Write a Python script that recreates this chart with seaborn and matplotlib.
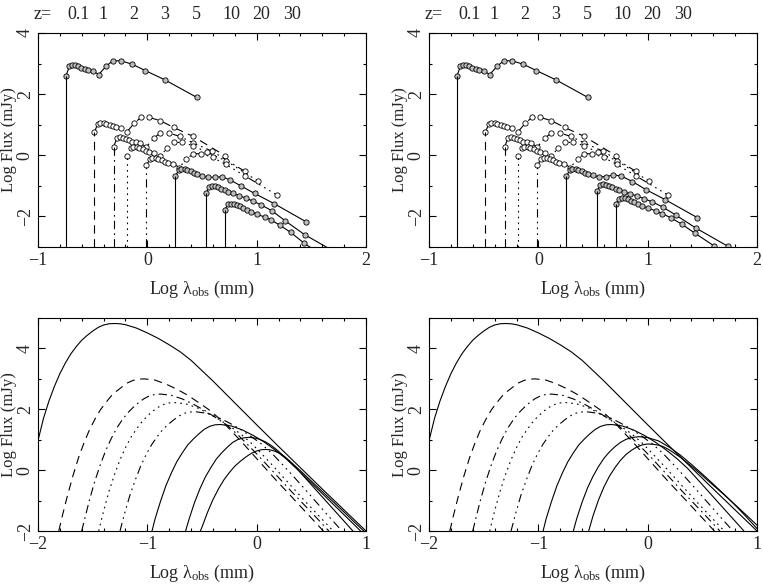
import matplotlib
matplotlib.use("Agg")

import matplotlib.pyplot as plt
import matplotlib.transforms as mtransforms
from matplotlib.ticker import MultipleLocator
import seaborn as sns

# =========================================================
# DATA : observed SEDs (top) and model curves (bottom)
# =========================================================

redshift_labels = ["z=", "0.1", "1", "2", "3", "5", "10", "20", "30"]

# top panels: points, one list per redshift
sed_x_z01 = [-0.744, -0.713, -0.689, -0.659, -0.634, -0.604, -0.573, -0.543, -0.500, -0.445, -0.378, -0.317, -0.241, -0.140, -0.018, 0.159, 0.454]
sed_y_z01 = [2.60, 2.91, 2.94, 2.94, 2.91, 2.87, 2.83, 2.80, 2.77, 2.64, 2.91, 3.09, 3.09, 2.98, 2.77, 2.47, 1.89]

sed_x_z1 = [-0.485, -0.454, -0.430, -0.400, -0.375, -0.345, -0.314, -0.284, -0.241, -0.186, -0.119, -0.058, 0.018, 0.119, 0.241, 0.418, 0.713]
sed_y_z1 = [0.75, 1.02, 1.07, 1.07, 1.03, 0.99, 0.95, 0.92, 0.89, 0.77, 1.05, 1.24, 1.24, 1.13, 0.91, 0.62, -0.02]

sed_x_z2 = [-0.309, -0.278, -0.254, -0.224, -0.199, -0.169, -0.138, -0.108, -0.065, -0.010, 0.057, 0.118, 0.194, 0.295, 0.417, 0.594, 0.889]
sed_y_z2 = [0.28, 0.55, 0.59, 0.58, 0.54, 0.50, 0.45, 0.42, 0.40, 0.27, 0.55, 0.73, 0.73, 0.62, 0.41, 0.13, -0.52]

sed_x_z3 = [-0.184, -0.153, -0.129, -0.099, -0.074, -0.044, -0.013, 0.017, 0.060, 0.115, 0.182, 0.243, 0.319, 0.420, 0.542, 0.719, 1.014]
sed_y_z3 = [-0.03, 0.24, 0.28, 0.27, 0.23, 0.19, 0.14, 0.11, 0.09, -0.04, 0.24, 0.42, 0.42, 0.31, 0.10, -0.18, -0.85]

sed_x_z5 = [-0.008, 0.023, 0.047, 0.077, 0.102, 0.132, 0.163, 0.193, 0.236, 0.291, 0.358, 0.419, 0.495, 0.596, 0.718, 0.895, 1.190]
sed_y_z5 = [-0.33, -0.12, -0.08, -0.09, -0.13, -0.17, -0.22, -0.25, -0.27, -0.40, -0.13, 0.05, 0.05, -0.07, -0.30, -0.68, -1.31]

sed_x_z10 = [0.256, 0.287, 0.311, 0.341, 0.366, 0.396, 0.427, 0.457, 0.500, 0.555, 0.622, 0.683, 0.759, 0.860, 0.982, 1.159, 1.454]
sed_y_z10_left = [-0.68, -0.49, -0.46, -0.46, -0.49, -0.53, -0.57, -0.62, -0.68, -0.72, -0.72, -0.70, -0.81, -1.01, -1.25, -1.58, -2.18]
sed_y_z10_right = [-0.68, -0.49, -0.46, -0.46, -0.49, -0.53, -0.57, -0.62, -0.66, -0.70, -0.70, -0.64, -0.68, -0.86, -1.12, -1.45, -2.04]

sed_x_z20 = [0.537, 0.568, 0.592, 0.622, 0.647, 0.677, 0.708, 0.738, 0.781, 0.836, 0.903, 0.964, 1.040, 1.141, 1.263, 1.440, 1.735]
sed_y_z20_left = [-1.23, -1.03, -1.00, -1.01, -1.05, -1.10, -1.14, -1.20, -1.25, -1.32, -1.40, -1.50, -1.62, -1.82, -2.15, -2.60, -3.20]
sed_y_z20_right = [-1.16, -0.98, -0.95, -0.96, -1.00, -1.05, -1.09, -1.14, -1.19, -1.26, -1.33, -1.42, -1.52, -1.70, -1.97, -2.38, -2.98]

sed_x_z30 = [0.706, 0.737, 0.761, 0.791, 0.816, 0.846, 0.877, 0.907, 0.950, 1.005, 1.072, 1.133, 1.209, 1.310, 1.432, 1.609, 1.904]
sed_y_z30_left = [-1.80, -1.61, -1.58, -1.59, -1.62, -1.67, -1.72, -1.78, -1.84, -1.93, -2.02, -2.12, -2.28, -2.52, -2.87, -3.30, -4.00]
sed_y_z30_right = [-1.60, -1.43, -1.40, -1.41, -1.44, -1.49, -1.54, -1.59, -1.65, -1.73, -1.82, -1.91, -2.04, -2.25, -2.55, -2.97, -3.60]

# bottom panels: model curves
mod_x_z01 = [-2.0, -1.95, -1.9, -1.85, -1.8, -1.75, -1.7, -1.65, -1.6, -1.55, -1.5, -1.45, -1.4, -1.35, -1.3, -1.25, -1.2, -1.1, -1.0, -0.9, -0.8, -0.7, -0.6, -0.5, -0.4, -0.3, -0.2, -0.1, 0.0, 0.2, 0.4, 0.6, 0.8, 1.0]
mod_y_z01 = [0.97, 1.70, 2.27, 2.75, 3.17, 3.52, 3.82, 4.06, 4.27, 4.43, 4.57, 4.69, 4.77, 4.81, 4.82, 4.81, 4.78, 4.67, 4.51, 4.33, 4.12, 3.89, 3.61, 3.27, 2.93, 2.57, 2.21, 1.85, 1.49, 0.78, 0.08, -0.62, -1.31, -2.0]

mod_x_z1 = [-1.81, -1.78, -1.73, -1.68, -1.63, -1.58, -1.53, -1.48, -1.43, -1.38, -1.33, -1.28, -1.23, -1.18, -1.13, -1.08, -1.03, -0.93, -0.83, -0.73, -0.63, -0.53, -0.43, -0.33, -0.23, -0.13, -0.03, 0.17, 0.37, 0.61]
mod_y_z1 = [-2.0, -1.54, -0.83, -0.18, 0.40, 0.89, 1.32, 1.67, 1.98, 2.22, 2.44, 2.60, 2.74, 2.87, 2.95, 2.99, 3.0, 2.96, 2.83, 2.66, 2.46, 2.22, 1.97, 1.66, 1.28, 0.90, 0.50, -0.30, -1.07, -2.0]

mod_x_z2 = [-1.60, -1.58, -1.53, -1.48, -1.43, -1.38, -1.33, -1.28, -1.23, -1.18, -1.13, -1.08, -1.03, -0.98, -0.93, -0.88, -0.78, -0.68, -0.58, -0.48, -0.38, -0.28, -0.18, -0.08, 0.02, 0.12, 0.32, 0.52, 0.66]
mod_y_z2 = [-2.0, -1.70, -0.99, -0.36, 0.18, 0.65, 1.04, 1.38, 1.65, 1.88, 2.06, 2.22, 2.35, 2.44, 2.49, 2.5, 2.46, 2.34, 2.17, 1.97, 1.74, 1.50, 1.19, 0.83, 0.46, 0.07, -0.71, -1.46, -2.0]

mod_x_z3 = [-1.445, -1.40, -1.35, -1.30, -1.25, -1.20, -1.15, -1.10, -1.05, -1.00, -0.95, -0.90, -0.85, -0.80, -0.75, -0.65, -0.55, -0.45, -0.35, -0.25, -0.15, -0.05, 0.05, 0.15, 0.25, 0.45, 0.70]
mod_y_z3 = [-2.0, -1.34, -0.69, -0.14, 0.34, 0.74, 1.08, 1.35, 1.59, 1.78, 1.94, 2.07, 2.16, 2.21, 2.22, 2.18, 2.06, 1.88, 1.68, 1.45, 1.20, 0.89, 0.52, 0.14, -0.26, -1.05, -2.0]

mod_x_z5 = [-1.25, -1.21, -1.16, -1.11, -1.06, -1.01, -0.96, -0.91, -0.86, -0.81, -0.76, -0.71, -0.66, -0.61, -0.56, -0.46, -0.36, -0.26, -0.16, -0.06, 0.04, 0.14, 0.24, 0.34, 0.44, 0.64, 0.78]
mod_y_z5 = [-2.0, -1.45, -0.83, -0.32, 0.14, 0.52, 0.84, 1.10, 1.33, 1.50, 1.65, 1.78, 1.87, 1.91, 1.92, 1.87, 1.75, 1.57, 1.37, 1.13, 0.87, 0.55, 0.17, -0.22, -0.62, -1.44, -2.0]

mod_x_z10 = [-0.957, -0.93, -0.88, -0.83, -0.78, -0.73, -0.68, -0.63, -0.58, -0.53, -0.48, -0.43, -0.38, -0.33, -0.23, -0.13, -0.03, 0.07, 0.17, 0.27, 0.37, 0.47, 0.57, 0.67, 0.77, 0.88]
mod_y_z10 = [-2.0, -1.61, -1.03, -0.51, -0.09, 0.28, 0.57, 0.83, 1.02, 1.19, 1.34, 1.44, 1.49, 1.5, 1.45, 1.32, 1.14, 0.92, 0.66, 0.37, 0.04, -0.36, -0.76, -1.16, -1.56, -2.0]

mod_x_z20_left = [-0.65, -0.62, -0.57, -0.52, -0.47, -0.42, -0.37, -0.32, -0.27, -0.22, -0.17, -0.12, -0.07, -0.02, 0.03, 0.08, 0.13, 0.18, 0.23, 0.30, 0.40, 0.50, 0.60, 0.70, 0.80, 0.90, 0.95]
mod_y_z20_left = [-2.0, -1.63, -1.08, -0.62, -0.23, 0.08, 0.36, 0.57, 0.75, 0.91, 1.01, 1.06, 1.08, 1.06, 1.01, 0.93, 0.82, 0.68, 0.52, 0.28, -0.07, -0.42, -0.77, -1.12, -1.47, -1.82, -2.0]
mod_x_z20_right = [-0.68, -0.65, -0.60, -0.55, -0.50, -0.45, -0.40, -0.35, -0.30, -0.25, -0.20, -0.15, -0.08, 0.0, 0.1, 0.2, 0.3, 0.4, 0.5, 0.6, 0.7, 0.8, 0.9, 1.0]
mod_y_z20_right = [-2.0, -1.6, -1.05, -0.58, -0.2, 0.12, 0.39, 0.6, 0.77, 0.91, 1.01, 1.07, 1.10, 1.07, 0.96, 0.75, 0.49, 0.19, -0.13, -0.46, -0.80, -1.15, -1.53, -1.92]

mod_x_z30_left = [-0.515, -0.50, -0.45, -0.40, -0.35, -0.30, -0.25, -0.20, -0.15, -0.10, -0.05, 0.0, 0.04, 0.08, 0.12, 0.16, 0.20, 0.25, 0.30, 0.40, 0.50, 0.60, 0.70, 0.80, 0.90, 0.98]
mod_y_z30_left = [-2.0, -1.87, -1.39, -0.97, -0.62, -0.32, -0.08, 0.13, 0.29, 0.43, 0.55, 0.63, 0.67, 0.68, 0.67, 0.63, 0.57, 0.46, 0.31, -0.02, -0.36, -0.70, -1.04, -1.38, -1.73, -2.0]
mod_x_z30_right = [-0.54, -0.50, -0.45, -0.40, -0.35, -0.30, -0.25, -0.20, -0.15, -0.10, -0.05, 0.0, 0.05, 0.1, 0.15, 0.2, 0.3, 0.4, 0.5, 0.6, 0.7, 0.8, 0.9, 1.0]
mod_y_z30_right = [-2.0, -1.5, -0.98, -0.55, -0.20, 0.08, 0.32, 0.51, 0.65, 0.76, 0.83, 0.86, 0.85, 0.82, 0.76, 0.66, 0.42, 0.13, -0.18, -0.50, -0.81, -1.14, -1.47, -1.81]

# =========================================================
# STYLE
# =========================================================

sns.set_style("ticks")
plt.rcParams["font.family"] = ["Liberation Serif", "DejaVu Serif"]
plt.rcParams["mathtext.fontset"] = "custom"
plt.rcParams["mathtext.rm"] = "Liberation Serif"
plt.rcParams["mathtext.it"] = "Liberation Serif:italic"
plt.rcParams["lines.scale_dashes"] = False
plt.rcParams["axes.linewidth"] = 0.8

# pgplot-like line styles: solid, dashed, dot-dash, dotted, dash-dot-dot-dot
LS = [
    "solid",
    (0, (6, 4)),
    (0, (6, 3, 1.2, 3)),
    (0, (1.2, 3)),
    (0, (6, 3, 1.2, 3, 1.2, 3, 1.2, 3)),
    "solid",
    "solid",
    "solid",
]
FACES = ["#bdbdbd", "white", "white", "white", "white", "#bdbdbd", "#bdbdbd", "#bdbdbd"]
LW = 0.8
FS = 13

z_label_x = [-0.954, -0.625, -0.405, -0.122, 0.162, 0.445, 0.765, 1.04, 1.32]


def style_axes(ax, xlim, ylim, xminor):

    ax.set_xlim(*xlim)
    ax.set_ylim(*ylim)

    ax.xaxis.set_major_locator(MultipleLocator(1))
    ax.xaxis.set_minor_locator(MultipleLocator(xminor))
    ax.yaxis.set_major_locator(MultipleLocator(2))
    ax.yaxis.set_minor_locator(MultipleLocator(1))

    ax.tick_params(
        which="both", direction="in", top=True, right=True,
        width=0.8, labelsize=FS, color="k"
    )
    ax.tick_params(which="major", length=5)
    ax.tick_params(which="minor", length=2.5)
    ax.tick_params(axis="y", labelrotation=90, pad=3)
    for lab in ax.get_yticklabels():
        lab.set_verticalalignment("center")

    ax.set_xlabel("Log λ$_{\\rm obs}$ (mm)", fontsize=FS, labelpad=7)
    ax.set_ylabel("Log Flux (mJy)", fontsize=12, va="center")
    ax.yaxis.set_label_coords(-0.088, 0.5)

    for sp in ax.spines.values():
        sp.set_visible(True)
        sp.set_linewidth(0.8)
        sp.set_color("k")


def sed_panel(ax, xs_list, ys_list):

    ybottom = -3
    for xs, ys, ls, fc in zip(xs_list, ys_list, LS, FACES):
        sns.lineplot(
            x=xs, y=ys, ax=ax, sort=False, estimator=None,
            color="k", linestyle=ls, lw=LW,
            marker="o", markersize=3.8,
            markerfacecolor=fc, markeredgecolor="k", markeredgewidth=0.6,
        )
        ax.vlines(xs[0], ybottom, ys[0], colors="k", linestyles=ls, lw=LW)

    style_axes(ax, (-1, 2), (-3, 4), 0.2)

    trans = mtransforms.blended_transform_factory(ax.transData, ax.transAxes)
    for lab, xp in zip(redshift_labels, z_label_x):
        ax.text(xp, 1.085, lab, transform=trans, ha="center", va="center", fontsize=FS)


def model_panel(ax, xs_list, ys_list):

    for xs, ys, ls in zip(xs_list, ys_list, LS):
        sns.lineplot(
            x=xs, y=ys, ax=ax, sort=False, estimator=None,
            color="k", linestyle=ls, lw=LW,
        )

    style_axes(ax, (-2, 1), (-2, 5), 0.2)


# =========================================================
# FIGURE
# =========================================================

fig = plt.figure(figsize=(7.63, 5.85), dpi=100)

ax_tl = fig.add_axes([0.0498, 0.5778, 0.4299, 0.3658])
ax_tr = fig.add_axes([0.5623, 0.5778, 0.4299, 0.3658])
ax_bl = fig.add_axes([0.0498, 0.0923, 0.4299, 0.3641])
ax_br = fig.add_axes([0.5623, 0.0923, 0.4299, 0.3641])

sed_x_all = [sed_x_z01, sed_x_z1, sed_x_z2, sed_x_z3, sed_x_z5, sed_x_z10, sed_x_z20, sed_x_z30]

sed_panel(
    ax_tl, sed_x_all,
    [sed_y_z01, sed_y_z1, sed_y_z2, sed_y_z3, sed_y_z5, sed_y_z10_left, sed_y_z20_left, sed_y_z30_left]
)
sed_panel(
    ax_tr, sed_x_all,
    [sed_y_z01, sed_y_z1, sed_y_z2, sed_y_z3, sed_y_z5, sed_y_z10_right, sed_y_z20_right, sed_y_z30_right]
)

model_panel(
    ax_bl,
    [mod_x_z01, mod_x_z1, mod_x_z2, mod_x_z3, mod_x_z5, mod_x_z10, mod_x_z20_left, mod_x_z30_left],
    [mod_y_z01, mod_y_z1, mod_y_z2, mod_y_z3, mod_y_z5, mod_y_z10, mod_y_z20_left, mod_y_z30_left],
)
model_panel(
    ax_br,
    [mod_x_z01, mod_x_z1, mod_x_z2, mod_x_z3, mod_x_z5, mod_x_z10, mod_x_z20_right, mod_x_z30_right],
    [mod_y_z01, mod_y_z1, mod_y_z2, mod_y_z3, mod_y_z5, mod_y_z10, mod_y_z20_right, mod_y_z30_right],
)

fig.savefig("out.png", dpi=100, facecolor="white")
plt.close(fig)
